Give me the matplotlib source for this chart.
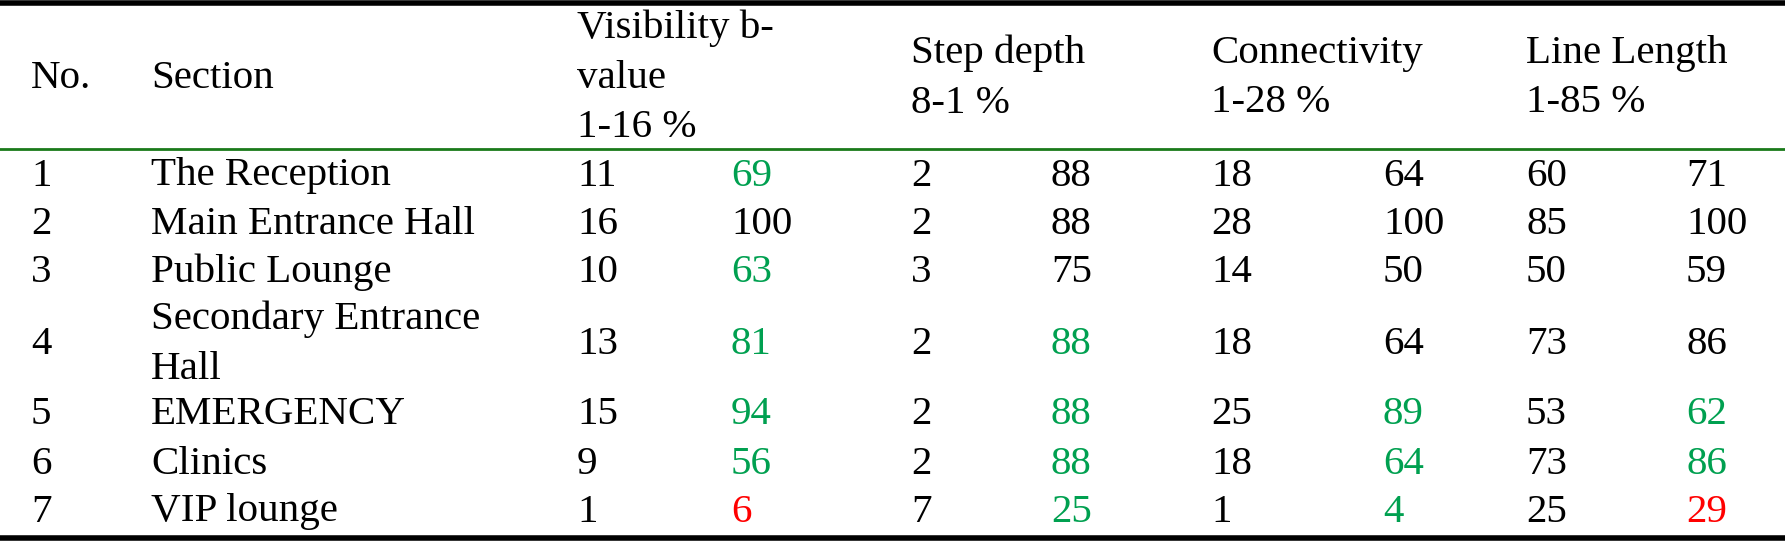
import matplotlib
matplotlib.use("Agg")
import matplotlib.pyplot as plt

# table data
numbers = ["1", "2", "3", "4", "5", "6", "7"]
sections = ["The Reception", "Main Entrance Hall", "Public Lounge",
            "Secondary Entrance\nHall", "EMERGENCY", "Clinics", "VIP lounge"]
visibility = [11, 16, 10, 13, 15, 9, 1]
visibility_pct = [69, 100, 63, 81, 94, 56, 6]
step_depth = [2, 2, 3, 2, 2, 2, 7]
step_depth_pct = [88, 88, 75, 88, 88, 88, 25]
connectivity = [18, 28, 14, 18, 25, 18, 1]
connectivity_pct = [64, 100, 50, 64, 89, 64, 4]
line_length = [60, 85, 50, 73, 53, 73, 25]
line_length_pct = [71, 100, 59, 86, 62, 86, 29]
headers = ["No.", "Section", "Visibility b-\nvalue\n1-16 %", "Step depth\n8-1 %",
           "Connectivity\n1-28 %", "Line Length\n1-85 %"]

# colour of each percentage cell (k = black, g = green, r = red)
pct_colors = [
    ["g", "k", "g", "g", "g", "g", "r"],
    ["k", "k", "k", "g", "g", "g", "g"],
    ["k", "k", "k", "k", "g", "g", "g"],
    ["k", "k", "k", "k", "g", "g", "r"],
]
cmap = {"k": "black", "g": "#00a050", "r": "#ff0000"}

W, H = 1785, 541
fig = plt.figure(figsize=(W / 100, H / 100), dpi=100)
ax = fig.add_axes([0, 0, 1, 1])
ax.set_xlim(0, W)
ax.set_ylim(H, 0)
ax.axis("off")

font = dict(family="Liberation Serif", fontsize=29.5)

# rules
ax.plot([0, W], [3, 3], color="black", lw=4)
ax.plot([0, W], [149, 149], color="#1a7a1a", lw=2)
ax.plot([0, W], [538, 538], color="black", lw=4)

# headers
head_x = [31, 151, 577, 911, 1211, 1526]
for x, h in zip(head_x, headers):
    ax.text(x, 78, h, va="center", ha="left", linespacing=1.45, **font)

row_y = [176, 224, 272, 344, 415, 464, 512]
cols = [577, 911, 1211, 1526]
pcols = [731, 1051, 1383, 1686]
raw = [visibility, step_depth, connectivity, line_length]
pct = [visibility_pct, step_depth_pct, connectivity_pct, line_length_pct]

for i, y in enumerate(row_y):
    ax.text(31, y, numbers[i], va="center", ha="left", **font)
    ax.text(151, y, sections[i], va="center", ha="left", linespacing=1.45, **font)
    for j in range(4):
        ax.text(cols[j], y, str(raw[j][i]), va="center", ha="left", **font)
        ax.text(pcols[j], y, str(pct[j][i]), va="center", ha="left",
                color=cmap[pct_colors[j][i]], **font)

fig.savefig("out.png", dpi=100)
